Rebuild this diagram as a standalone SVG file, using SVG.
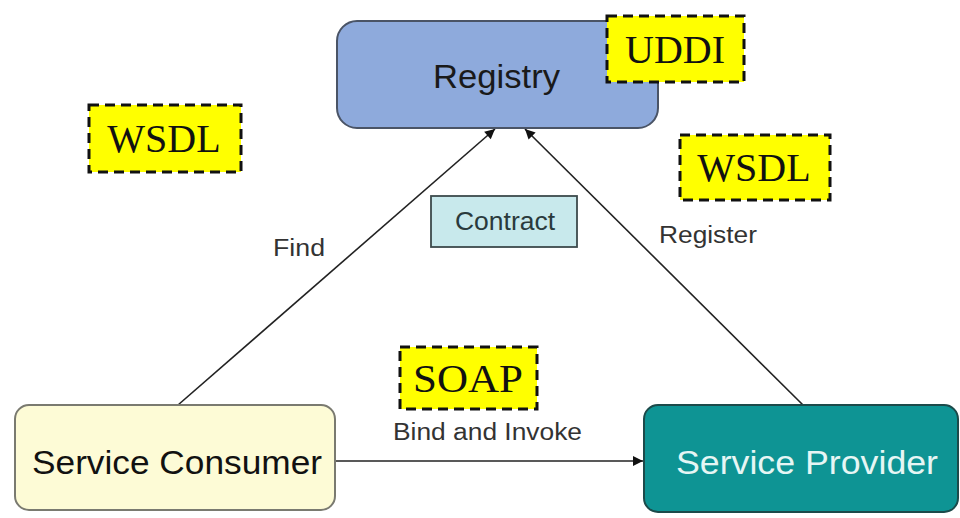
<svg xmlns="http://www.w3.org/2000/svg" width="960" height="518" viewBox="0 0 960 518">
<style>
.sans{font-family:"Liberation Sans",Arial,sans-serif}
.serif{font-family:"Liberation Serif","Times New Roman",serif;fill:#111}
.tag{fill:#ffff00;stroke:#111;stroke-width:3;stroke-dasharray:10 6}
.conn{stroke:#222;stroke-width:1.6;fill:none}
.lbl{font-family:"Liberation Sans",Arial,sans-serif;font-size:23px;fill:#333}
</style>
<defs>
<marker id="ah" viewBox="0 0 10 10" refX="10" refY="5" markerWidth="11" markerHeight="10" markerUnits="userSpaceOnUse" orient="auto">
<path d="M0,0 L10,5 L0,10 z" fill="#111"/>
</marker>
</defs>
<rect width="960" height="518" fill="#ffffff"/>
<g id="connectors">
<line class="conn" x1="178" y1="405" x2="495" y2="129" marker-end="url(#ah)"/>
<line class="conn" x1="803" y1="405" x2="525" y2="129" marker-end="url(#ah)"/>
<line class="conn" x1="336" y1="461" x2="643" y2="461" marker-end="url(#ah)"/>
<text class="lbl" x="273" y="256" textLength="52" lengthAdjust="spacingAndGlyphs">Find</text>
<text class="lbl" x="659" y="243" textLength="98" lengthAdjust="spacingAndGlyphs">Register</text>
<text class="lbl" x="393" y="440" textLength="189" lengthAdjust="spacingAndGlyphs">Bind and Invoke</text>
</g>
<g id="registry">
<rect x="337" y="21" width="321" height="107" rx="20" fill="#8eaadc" stroke="#4a5466" stroke-width="2"/>
<text class="sans" x="433" y="88" font-size="33" textLength="127" lengthAdjust="spacingAndGlyphs" fill="#1a1a1a">Registry</text>
</g>
<g id="uddi">
<rect class="tag" x="607" y="16" width="137" height="66"/>
<text class="serif" x="675" y="63" font-size="40" text-anchor="middle">UDDI</text>
</g>
<g id="wsdl-left">
<rect class="tag" x="89" y="105" width="152" height="67"/>
<text class="serif" x="164" y="152" font-size="40" text-anchor="middle">WSDL</text>
</g>
<g id="wsdl-right">
<rect class="tag" x="680" y="135" width="150" height="65"/>
<text class="serif" x="754" y="181" font-size="40" text-anchor="middle">WSDL</text>
</g>
<g id="contract">
<rect x="431" y="196" width="146" height="51" fill="#c8e9ec" stroke="#3c4a4c" stroke-width="1.8"/>
<text class="sans" x="455" y="230" font-size="25" textLength="100" lengthAdjust="spacingAndGlyphs" fill="#2a3a3c">Contract</text>
</g>
<g id="soap">
<rect class="tag" x="400" y="347" width="137" height="62"/>
<text class="serif" x="413" y="392" font-size="40" textLength="110" lengthAdjust="spacingAndGlyphs">SOAP</text>
</g>
<g id="service-consumer">
<rect x="15" y="405" width="320" height="105" rx="14" fill="#fdfbd6" stroke="#7a7a70" stroke-width="2"/>
<text class="sans" x="32" y="474" font-size="34" textLength="290" lengthAdjust="spacingAndGlyphs" fill="#111">Service Consumer</text>
</g>
<g id="service-provider">
<rect x="644" y="405" width="314" height="107" rx="14" fill="#0e9494" stroke="#1c4a4a" stroke-width="2"/>
<text class="sans" x="676" y="474" font-size="34" textLength="262" lengthAdjust="spacingAndGlyphs" fill="#e6f6f4">Service Provider</text>
</g>
</svg>
